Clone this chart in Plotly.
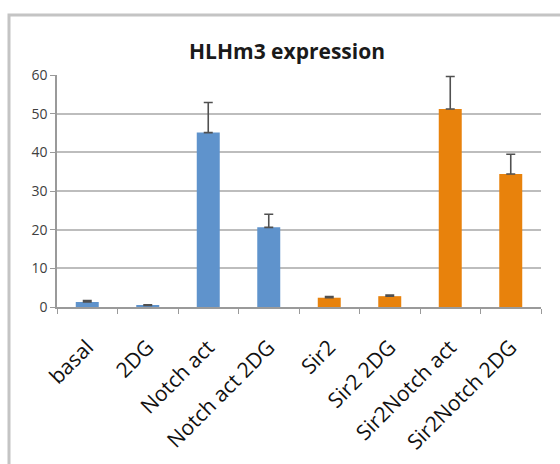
import plotly.graph_objects as go

categories = ["basal", "2DG", "Notch act", "Notch act 2DG", "Sir2", "Sir2 2DG",
              "Sir2Notch act", "Sir2Notch 2DG"]
values = [1.3, 0.4, 45.1, 20.6, 2.4, 2.8, 51.2, 34.4]
errors = [0.4, 0.2, 7.8, 3.4, 0.3, 0.3, 8.4, 5.1]
group = ["blue", "blue", "blue", "blue", "orange", "orange", "orange", "orange"]
palette = {"blue": "#5F93CC", "orange": "#E8820C"}
title_text = "HLHm3 expression"
y_ticks = [0, 10, 20, 30, 40, 50, 60]

fig = go.Figure()
fig.add_trace(go.Bar(
    x=categories, y=values,
    marker=dict(color=[palette[g] for g in group], line=dict(width=0)),
    error_y=dict(type="data", array=errors, arrayminus=[0] * len(errors),
                 symmetric=False, color="#505050", thickness=1.6, width=4.5),
    width=0.38,
))

W, H = 560, 464
ml, mr, mt, mb = 57, 19, 75, 157
pw, ph = W - ml - mr, H - mt - mb

def px_x(x):
    return (x - ml) / pw

def px_y(y):
    return (H - mb - y) / ph

fig.update_layout(
    width=W, height=H,
    margin=dict(l=ml, r=mr, t=mt, b=mb, pad=0),
    paper_bgcolor="white", plot_bgcolor="white",
    showlegend=False,
    title=dict(text="<b>" + title_text + "</b>", x=px_x(287), xref="paper", xanchor="center",
               y=1 - 52 / H, yanchor="middle",
               font=dict(family="Open Sans", size=21, color="#1a1a1a")),
    xaxis=dict(
        type="category", tickangle=-45, showgrid=False,
        showline=True, linecolor="#9a9a9a", linewidth=1.5,
        ticks="outside", tickson="boundaries", ticklen=5, tickcolor="#9a9a9a", tickwidth=1.2,
        tickfont=dict(family="Open Sans", size=21, color="#111111"),
        ticklabelstandoff=18,
        range=[-0.5, 7.5], fixedrange=True, automargin=False,
    ),
    yaxis=dict(
        range=[0, 60], tickmode="array", tickvals=y_ticks, ticksuffix="\u2002\u2002",
        showgrid=True, gridcolor="#bdbdbd", gridwidth=1.5,
        showline=True, linecolor="#9a9a9a", linewidth=1.5,
        ticks="outside", ticklen=5, tickcolor="#9a9a9a", tickwidth=1.2,
        tickfont=dict(family="Open Sans", size=14, color="#404040"),
        zeroline=False, fixedrange=True, automargin=False,
    ),
    shapes=[dict(type="rect", xref="paper", yref="paper",
                 x0=px_x(9), x1=px_x(W + 20), y0=px_y(H + 20), y1=px_y(15),
                 line=dict(color="#c4c4c4", width=3), fillcolor="rgba(0,0,0,0)", layer="below")],
)

fig.write_html("out.html")
